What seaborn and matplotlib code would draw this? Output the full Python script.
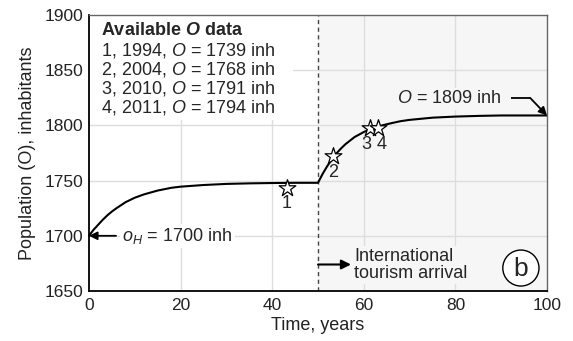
import numpy as np
import pandas as pd
import matplotlib
matplotlib.use("Agg")
import matplotlib.pyplot as plt
import seaborn as sns
from matplotlib.patches import Rectangle, Ellipse

# ---- data ----
curve_t = [0, 1, 2, 3, 4, 5, 6, 8, 10, 12, 15, 18, 20, 25, 30, 35, 40, 45, 50,
           51, 52, 53, 54, 55, 56, 58, 60, 62, 64, 66, 68, 70, 75, 80, 85, 90, 95, 100]
curve_o = [1700, 1705.5, 1710, 1714.5, 1718.5, 1722, 1725, 1730.5, 1734.5, 1737.5, 1741, 1743.5, 1744.5, 1746, 1747, 1747.5, 1747.8, 1748, 1748,
           1756, 1763, 1769, 1774.5, 1779, 1783, 1789.5, 1794, 1797.5, 1800, 1802, 1803.8, 1805, 1807, 1808, 1808.6, 1809, 1809, 1809]
star_t = [43.2, 53.2, 61.4, 63.0]
star_o = [1743.5, 1772.5, 1797.5, 1797.5]
star_lbl = ["1", "2", "3", "4"]
info_title = "Available $\\mathbfit{O}$ data"
info_lines = ["1, 1994, $\\mathit{O}$ = 1739 inh",
              "2, 2004, $\\mathit{O}$ = 1768 inh",
              "3, 2010, $\\mathit{O}$ = 1791 inh",
              "4, 2011, $\\mathit{O}$ = 1794 inh"]
x_ticks = [0, 20, 40, 60, 80, 100]
y_ticks = [1650, 1700, 1750, 1800, 1850, 1900]
t_event = 50
o_init = 1700
o_final = 1809

sns.set_theme(style="white")
plt.rcParams['font.family'] = ['Liberation Sans', 'DejaVu Sans']
plt.rcParams['mathtext.fontset'] = 'custom'
plt.rcParams['mathtext.rm'] = 'Liberation Sans'
plt.rcParams['mathtext.it'] = 'Liberation Sans:italic'
plt.rcParams['mathtext.bf'] = 'Liberation Sans:bold'
plt.rcParams['mathtext.bfit'] = 'Liberation Sans:bold:italic'

FS = 13
TFS = 12.5
BG = "#f6f6f6"
fig = plt.figure(figsize=(5.73, 3.41), dpi=100)
ax = fig.add_axes([89/573, 1-291/341, (547-89)/573, (291-15)/341])

ax.set_xlim(0, 100)
ax.set_ylim(1650, 1900)

# shaded region after event
ax.axvspan(t_event, 100, color=BG, zorder=0, lw=0)
# grid
for xv in x_ticks[1:-1]:
    ax.axvline(xv, color="#dddddd", lw=1, zorder=1)
for yv in y_ticks[1:-1]:
    ax.axhline(yv, color="#dddddd", lw=1, zorder=1)
# white box behind text
ax.add_patch(Rectangle((0, 1805), 44.5, 95, transform=ax.transData,
                       facecolor="white", edgecolor="none", zorder=2))

ax.axvline(t_event, color="#444444", lw=1, ls=(0, (3, 2.5)), zorder=3)

df = pd.DataFrame({"t": curve_t, "o": curve_o})
sns.lineplot(data=df, x="t", y="o", ax=ax, color="black", lw=1.5, zorder=4, clip_on=False)
sdf = pd.DataFrame({"t": star_t, "o": star_o})
sns.scatterplot(data=sdf, x="t", y="o", ax=ax, marker="*", s=160, facecolor="white",
                edgecolor="black", linewidth=0.9, zorder=5)

lbl_off = [(0, -14.5), (0, -15.5), (-0.9, -15), (0.8, -15)]
for (t, o, l, (dx, dy)) in zip(star_t, star_o, star_lbl, lbl_off):
    ax.text(t + dx, o + dy, l, ha="center", va="center", fontsize=FS, zorder=6)

# info box text
ax.text(2.6, 1886.4, info_title, fontsize=FS, fontweight="bold",
        ha="left", va="center", zorder=6)
for i, line in enumerate(info_lines):
    ax.text(2.6, 1867.4 - i * 17.2, line, fontsize=FS, ha="left", va="center", zorder=6)

# o_H annotation
ax.annotate("", xy=(0, o_init), xytext=(5.9, o_init),
            arrowprops=dict(arrowstyle="-|>", color="black", lw=1.3,
                            mutation_scale=12, shrinkA=0, shrinkB=0), zorder=6)
ax.text(7.3, o_init, "$o_H$ = 1700 inh", fontsize=FS, ha="left", va="center", zorder=6,
        bbox=dict(facecolor="white", edgecolor="none", pad=1.5))

# O final annotation
ax.text(67.3, 1824, "$\\mathit{O}$ = 1809 inh", fontsize=FS, ha="left", va="center", zorder=6,
        bbox=dict(facecolor=BG, edgecolor="none", pad=1.5))
ax.plot([92.1, 96.3], [1825, 1825], color="black", lw=1.3, zorder=6, solid_capstyle="butt")
ax.annotate("", xy=(100, o_final), xytext=(96.3, 1825),
            arrowprops=dict(arrowstyle="-|>", color="black", lw=1.3,
                            mutation_scale=12, shrinkA=0, shrinkB=0), zorder=6,
            annotation_clip=False)

# event annotation
ax.annotate("", xy=(57.2, 1674), xytext=(t_event, 1674),
            arrowprops=dict(arrowstyle="-|>", color="black", lw=1.5,
                            mutation_scale=14, shrinkA=0, shrinkB=0), zorder=6)
ax.text(57.9, 1673.5, "International\ntourism arrival", fontsize=FS, ha="left", va="center",
        linespacing=1.05, zorder=6,
        bbox=dict(facecolor=BG, edgecolor="none", pad=1))

# panel label (circle in display space)
ax.add_patch(Ellipse((94.3, 1670.8), 7.9, 32.6, facecolor="white",
                     edgecolor="black", lw=1.0, zorder=6))
ax.text(94.3, 1670.3, "b", fontsize=19, ha="center", va="center", zorder=7)

ax.set_xticks(x_ticks)
ax.set_yticks(y_ticks)
ax.tick_params(axis="both", length=0, labelsize=TFS, colors="#222222")
ax.tick_params(axis="x", pad=5)
ax.tick_params(axis="y", pad=4)
ax.set_xlabel("Time, years", fontsize=FS, labelpad=3, color="#222222")
ax.set_ylabel("Population (O), inhabitants", fontsize=FS, labelpad=6, color="#222222")

for side in ["left", "bottom"]:
    ax.spines[side].set_color("black")
    ax.spines[side].set_linewidth(1.3)
for side in ["top", "right"]:
    ax.spines[side].set_color("#666666")
    ax.spines[side].set_linewidth(1.0)
for sp in ax.spines.values():
    sp.set_zorder(8)

fig.savefig("out.png", dpi=100)
